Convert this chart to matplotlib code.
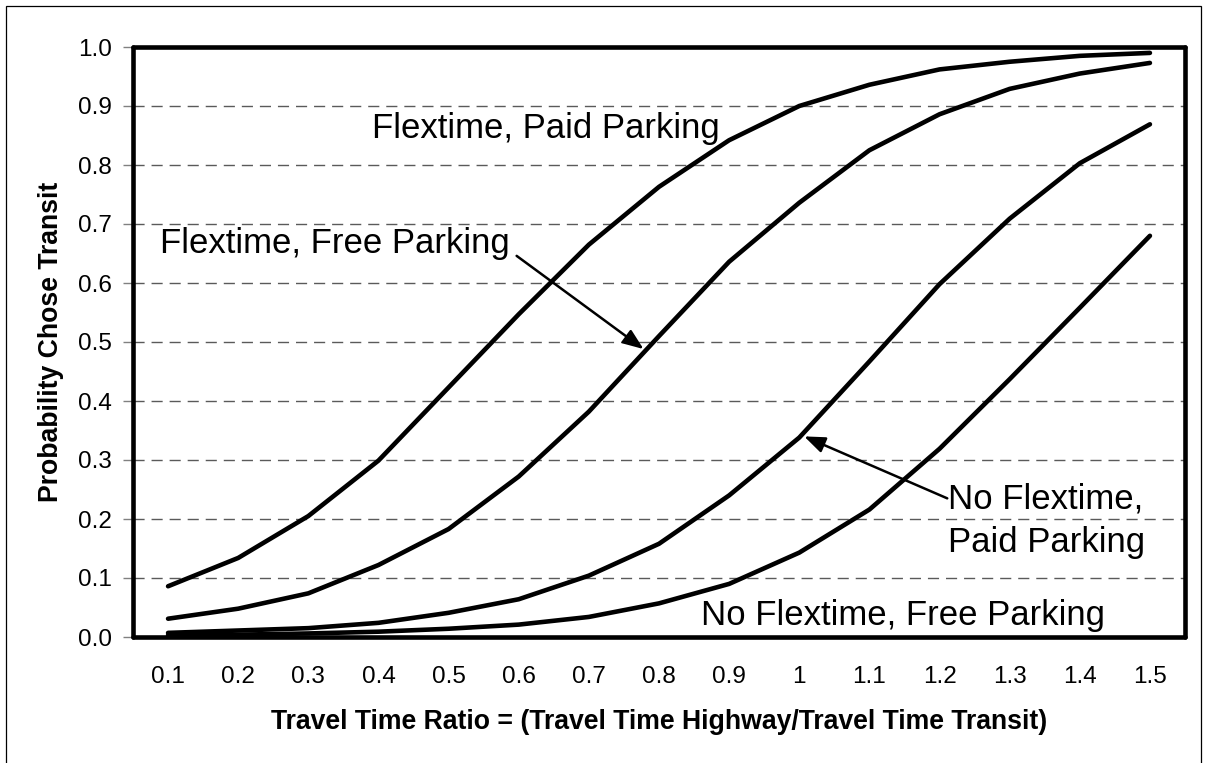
import numpy as np
import matplotlib
matplotlib.use("Agg")
import matplotlib.pyplot as plt
from matplotlib.patches import Rectangle

plt.rcParams['font.family'] = ['Liberation Sans', 'DejaVu Sans']

# travel time ratio (categories) and tick labels
ratio = [0.1, 0.2, 0.3, 0.4, 0.5, 0.6, 0.7, 0.8, 0.9, 1.0, 1.1, 1.2, 1.3, 1.4, 1.5]
ratio_labels = ["0.1", "0.2", "0.3", "0.4", "0.5", "0.6", "0.7", "0.8",
                "0.9", "1", "1.1", "1.2", "1.3", "1.4", "1.5"]

# probability of choosing transit
flex_paid = [0.086, 0.134, 0.205, 0.299, 0.423, 0.547, 0.665, 0.763, 0.842, 0.900,
             0.936, 0.962, 0.975, 0.985, 0.990]
flex_free = [0.031, 0.048, 0.074, 0.122, 0.183, 0.272, 0.382, 0.510, 0.636, 0.736,
             0.825, 0.886, 0.929, 0.955, 0.973]
noflex_paid = [0.007, 0.011, 0.015, 0.024, 0.041, 0.064, 0.104, 0.158, 0.240, 0.338,
               0.467, 0.598, 0.709, 0.803, 0.869]
noflex_free = [0.003, 0.004, 0.006, 0.009, 0.014, 0.021, 0.034, 0.057, 0.090, 0.143,
               0.216, 0.319, 0.437, 0.558, 0.680]

y_ticks = [0.0, 0.1, 0.2, 0.3, 0.4, 0.5, 0.6, 0.7, 0.8, 0.9, 1.0]

fig = plt.figure(figsize=(12.05, 7.63), dpi=100)
ax = fig.add_axes([133 / 1205, 126 / 763, 1052 / 1205, 590 / 763])

# outer chart border (cut off at the bottom like the original)
fig.patches.append(Rectangle((6 / 1205, -0.05), 1195 / 1205, 1.05 - 6 / 763,
                             transform=fig.transFigure, fill=False,
                             edgecolor='black', linewidth=0.9))

for s in [flex_paid, flex_free, noflex_paid, noflex_free]:
    ax.plot(ratio, s, color='black', lw=3.3, solid_capstyle='round',
            solid_joinstyle='round', zorder=3)

ax.set_xlim(0.05, 1.55)
ax.set_ylim(0, 1.0)
ax.set_xticks(ratio)
ax.set_xticklabels(ratio_labels)
ax.set_yticks(y_ticks)
ax.set_yticklabels([f"{v:.1f}" for v in y_ticks])
ax.tick_params(axis='x', length=0, pad=21, labelsize=17.5)
ax.tick_params(axis='y', length=7, width=1, color='#808080', pad=8, labelsize=17.5)

ax.grid(axis='y', color='#5a5a5a', lw=1, linestyle=(0, (8, 5)))
ax.set_axisbelow(True)
for sp in ax.spines.values():
    sp.set_linewidth(3.3)
    sp.set_color('black')
    sp.set_capstyle('round')

ax.set_xlabel("Travel Time Ratio = (Travel Time Highway/Travel Time Transit)",
              fontsize=19.2, fontweight='bold', labelpad=15)
ax.set_ylabel("Probability Chose Transit", fontsize=19.2, fontweight='bold',
              labelpad=10)

# series labels and arrows
fs = 25
ax.text(0.391, 0.846, "Flextime, Paid Parking", fontsize=fs, ha='left', va='baseline')
ax.text(0.0885, 0.651, "Flextime, Free Parking", fontsize=fs, ha='left', va='baseline')
ax.text(1.2125, 0.1446, "No Flextime,\nPaid Parking", fontsize=fs, ha='left',
        va='baseline', linespacing=1.4)
ax.text(0.8595, 0.020, "No Flextime, Free Parking", fontsize=fs, ha='left', va='baseline')

arrow = dict(arrowstyle='-|>,head_length=0.9,head_width=0.35', color='black',
             lw=1.8, mutation_scale=14, shrinkA=0, shrinkB=0)
ax.annotate('', xy=(0.778, 0.488), xytext=(0.597, 0.646), arrowprops=arrow)
ax.annotate('', xy=(1.007, 0.340), xytext=(1.211, 0.235), arrowprops=arrow)

fig.savefig("out.png", dpi=100)
